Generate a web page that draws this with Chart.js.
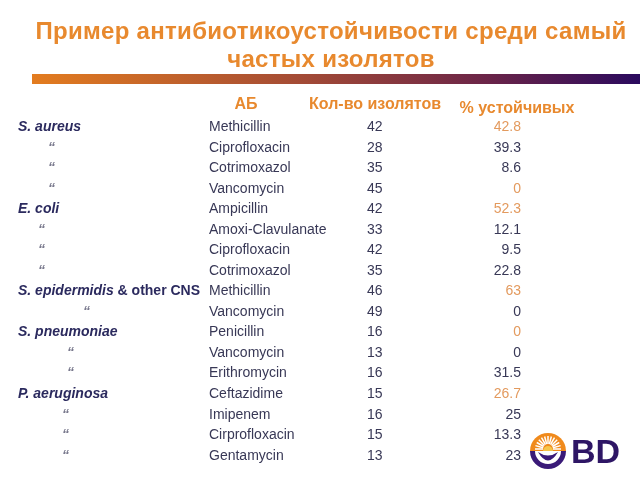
<!DOCTYPE html>
<html>
<head>
<meta charset="utf-8">
<script src="https://cdn.jsdelivr.net/npm/chart.js@4"></script>
<style>
  body { margin: 0; background: #fff; }
  canvas { display: block; }
</style>
</head>
<body>
<canvas id="resistChart" width="640" height="480"></canvas>
<script>
// Données du tableau
const titleLines = ['Пример антибиотикоустойчивости среди самый', 'частых изолятов'];
const headers = ['АБ', 'Кол-во изолятов', '% устойчивых'];

const organisms = ['S. aureus', '“', '“', '“', 'E. coli', '“', '“', '“',
  'S. epidermidis & other CNS', '“', 'S. pneumoniae', '“', '“',
  'P. aeruginosa', '“', '“', '“'];
const antibiotics = ['Methicillin', 'Ciprofloxacin', 'Cotrimoxazol', 'Vancomycin',
  'Ampicillin', 'Amoxi-Clavulanate', 'Ciprofloxacin', 'Cotrimoxazol',
  'Methicillin', 'Vancomycin', 'Penicillin', 'Vancomycin', 'Erithromycin',
  'Ceftazidime', 'Imipenem', 'Cirprofloxacin', 'Gentamycin'];
const isolateCounts = [42, 28, 35, 45, 42, 33, 42, 35, 46, 49, 16, 13, 16, 15, 16, 15, 13];
const resistantPct = [42.8, 39.3, 8.6, 0, 52.3, 12.1, 9.5, 22.8, 63, 0, 0, 0, 31.5, 26.7, 25, 13.3, 23];
const highlightedRows = [0, 3, 4, 8, 10, 13];

// Mise en page (pixels sur l'axe x, lignes sur l'axe y)
const colOrganism = 18;
const colAntibiotic = 209;
const colCount = 367;
const colPctRight = 521;
const headerX = [246, 375, 517];
const dittoX = { 1: 48, 2: 48, 3: 48, 5: 38, 6: 38, 7: 38, 9: 83, 11: 67, 12: 67, 14: 62, 15: 62, 16: 62 };

const orange = '#e8892e';
const softOrange = '#e39a5e';
const navy = '#2b2a5e';
const textDark = '#383856';
const FONT = '"Liberation Sans", Arial, sans-serif';

const rows = antibiotics.map((_, i) => i);

const datasets = [
  {
    label: 'organism',
    data: rows.map(i => ({ x: dittoX[i] !== undefined ? dittoX[i] : colOrganism, y: i })),
    texts: organisms,
    font: 'italic bold 14px ' + FONT,
    colors: rows.map(i => organisms[i] === '“' ? '#7a7a8e' : navy),
    align: 'left'
  },
  {
    label: 'antibiotic',
    data: rows.map(i => ({ x: colAntibiotic, y: i })),
    texts: antibiotics,
    font: '14px ' + FONT,
    colors: rows.map(() => textDark),
    align: 'left'
  },
  {
    label: 'count',
    data: rows.map(i => ({ x: colCount, y: i })),
    texts: isolateCounts.map(String),
    font: '14px ' + FONT,
    colors: rows.map(() => textDark),
    align: 'left'
  },
  {
    label: 'percent',
    data: rows.map(i => ({ x: colPctRight, y: i })),
    texts: resistantPct.map(String),
    font: '14px ' + FONT,
    colors: rows.map(i => highlightedRows.includes(i) ? softOrange : textDark),
    align: 'right'
  },
  {
    label: 'headers',
    data: headerX.map((x, k) => ({ x: x, y: k === 2 ? -0.93 : -1.08 })),
    texts: headers,
    font: 'bold 16px ' + FONT,
    colors: headers.map(() => orange),
    align: 'center'
  }
];

// Texte de chaque cellule dessiné à la position du point
const tableTextPlugin = {
  id: 'tableText',
  afterDatasetsDraw(chart) {
    const ctx = chart.ctx;
    chart.data.datasets.forEach((ds, di) => {
      const meta = chart.getDatasetMeta(di);
      meta.data.forEach((pt, i) => {
        const txt = ds.texts[i];
        ctx.save();
        ctx.font = ds.font;
        ctx.fillStyle = ds.colors[i];
        ctx.textAlign = ds.align;
        ctx.textBaseline = 'middle';
        const amp = txt.indexOf(' & ');
        if (ds.label === 'organism' && amp > 0) {
          // "& other CNS" est en romain dans l'original
          const head = txt.slice(0, amp);
          ctx.fillText(head, pt.x, pt.y);
          const w = ctx.measureText(head).width;
          ctx.font = 'bold 14px ' + FONT;
          ctx.fillText(txt.slice(amp), pt.x + w, pt.y);
        } else {
          ctx.fillText(txt, pt.x, pt.y);
        }
        ctx.restore();
      });
    });
  }
};

// Titre, barre dégradée et logo
const slidePlugin = {
  id: 'slideDecor',
  afterDraw(chart) {
    const ctx = chart.ctx;
    ctx.save();
    ctx.fillStyle = orange;
    ctx.font = 'bold 24px ' + FONT;
    ctx.letterSpacing = '0.3px';
    ctx.textAlign = 'center';
    ctx.textBaseline = 'alphabetic';
    ctx.fillText(titleLines[0], 331, 39);
    ctx.fillText(titleLines[1], 331, 67);
    ctx.letterSpacing = '0px';

    const grad = ctx.createLinearGradient(32, 0, 640, 0);
    grad.addColorStop(0, '#e37c1f');
    grad.addColorStop(0.45, '#a24a36');
    grad.addColorStop(0.75, '#6a2448');
    grad.addColorStop(1, '#2a0a5e');
    ctx.fillStyle = grad;
    ctx.fillRect(32, 74, 608, 10);

    // logo BD
    const cx = 548, cy = 451, r = 18;
    ctx.fillStyle = '#f08a1c';
    ctx.beginPath();
    ctx.arc(cx, cy, r, Math.PI, 0);
    ctx.closePath();
    ctx.fill();
    ctx.strokeStyle = '#fff';
    ctx.lineWidth = 1.5;
    for (let a = 0; a <= 12; a++) {
      const ang = Math.PI + (a / 12) * Math.PI;
      ctx.beginPath();
      ctx.moveTo(cx + Math.cos(ang) * 5, cy - 2 + Math.sin(ang) * 5);
      ctx.lineTo(cx + Math.cos(ang) * (r - 5), cy - 2 + Math.sin(ang) * (r - 5));
      ctx.stroke();
    }
    ctx.fillStyle = '#f6c54a';
    ctx.beginPath();
    ctx.arc(cx, cy, 5, Math.PI, 0);
    ctx.fill();
    ctx.fillStyle = '#3a1a78';
    ctx.beginPath();
    ctx.arc(cx, cy, r, 0, Math.PI);
    ctx.arc(cx, cy, r - 5, Math.PI, 0, true);
    ctx.closePath();
    ctx.fill();
    ctx.beginPath();
    ctx.moveTo(cx - 10, cy + 1);
    ctx.quadraticCurveTo(cx, cy + 18, cx + 10, cy + 1);
    ctx.quadraticCurveTo(cx, cy + 8, cx - 10, cy + 1);
    ctx.fill();
    ctx.fillStyle = '#2e1665';
    ctx.font = 'bold 34px ' + FONT;
    ctx.textAlign = 'left';
    ctx.fillText('BD', 571, 463);
    ctx.restore();
  }
};

const chart = new Chart(document.getElementById('resistChart').getContext('2d'), {
  type: 'scatter',
  data: { datasets: datasets },
  options: {
    responsive: false,
    animation: false,
    events: [],
    layout: { padding: { top: 117, bottom: 14, left: 0, right: 0 } },
    elements: { point: { radius: 0, hoverRadius: 0 } },
    scales: {
      x: { type: 'linear', min: 0, max: 640, display: false },
      y: { type: 'linear', min: -0.5, max: 16.5, reverse: true, display: false }
    },
    plugins: {
      legend: { display: false },
      tooltip: { enabled: false }
    }
  },
  plugins: [tableTextPlugin, slidePlugin]
});
</script>
</body>
</html>
